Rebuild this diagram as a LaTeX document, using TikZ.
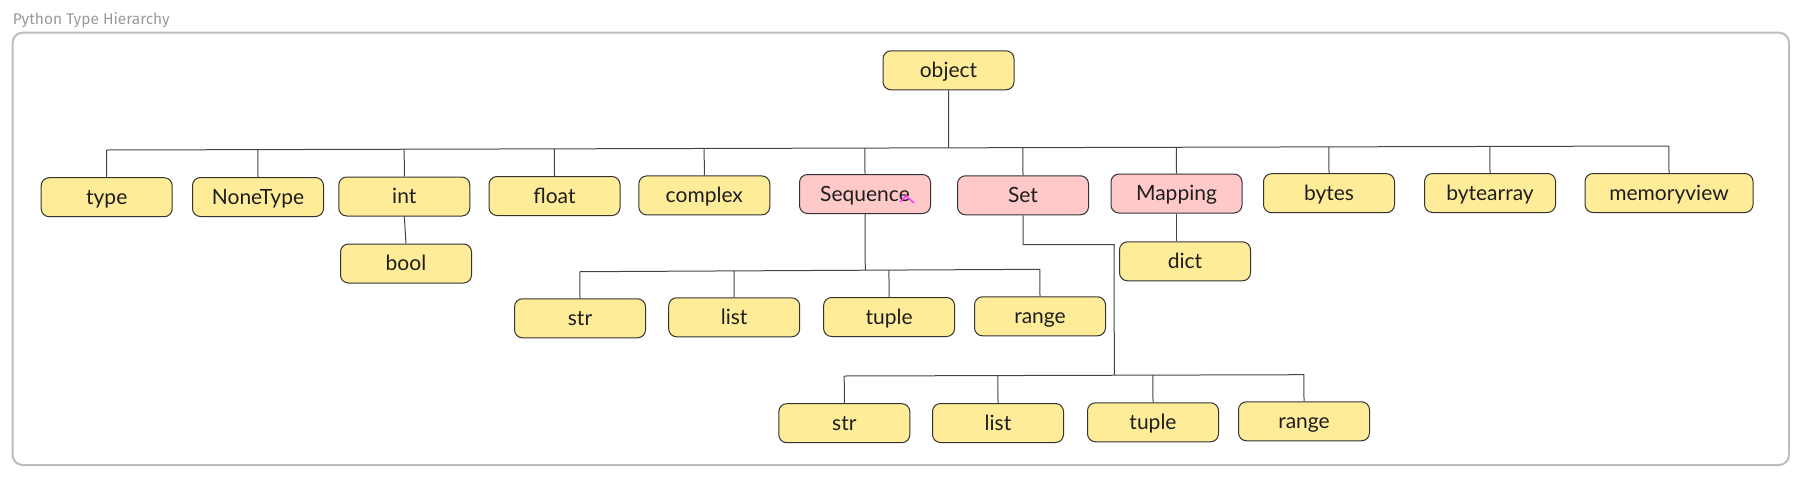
\documentclass[tikz,border=0pt]{standalone}
\usepackage{fontspec}
\setmainfont{Lato}
\newfontfamily\titlefont{Fira Sans}
\usetikzlibrary{calc}
\definecolor{nodeyellow}{HTML}{FFEC99}
\definecolor{nodepink}{HTML}{FFC9C9}
\definecolor{nodeborder}{HTML}{333333}
\definecolor{linegray}{HTML}{444444}
\definecolor{framegray}{HTML}{BDBDBD}
\definecolor{titlegray}{HTML}{9A9A9A}
\definecolor{caretpink}{HTML}{FF3DFF}
\definecolor{textdark}{HTML}{1E1E1E}
\tikzset{
  typebox/.style={draw=nodeborder, line width=1pt, rounded corners=8pt, fill=nodeyellow,
    minimum width=131pt, minimum height=39pt, inner sep=0pt, text=textdark,
    text height=14pt, text depth=0pt,
    font=\fontsize{21}{24}\selectfont},
  abstractbox/.style={typebox, fill=nodepink},
  link/.style={draw=linegray, line width=1pt},
}
\begin{document}
\begin{tikzpicture}[x=1pt, y=-1pt]
\useasboundingbox (0,0) rectangle (1800,480);
% frame and title
\draw[framegray, line width=2pt, rounded corners=10pt] (12.6,32.7) rectangle (1789,465);
\node[anchor=base west, inner sep=0pt, text=titlegray, font=\titlefont\fontsize{15.5}{18}\selectfont] (title) at (12.6,24) {Python Type Hierarchy};

% nodes
\node[typebox] (object) at (948.5,70.3) {object};
\node[typebox] (type) at (106.7,197.2) {type};
\node[typebox] (nonetype) at (258,197) {NoneType};
\node[typebox] (int) at (404.3,196.5) {int};
\node[typebox] (float) at (554.5,196) {float};
\node[typebox] (complex) at (704.3,195.4) {complex};
\node[abstractbox] (sequence) at (865,194) {Sequence};
\node[abstractbox] (set) at (1023,195.3) {Set};
\node[abstractbox] (mapping) at (1176.5,193.5) {Mapping};
\node[typebox] (bytes) at (1329,193.2) {bytes};
\node[typebox] (bytearray) at (1490,193) {bytearray};
\node[typebox, minimum width=168pt] (memoryview) at (1669,193) {memoryview};
\node[typebox] (bool) at (406,263.5) {bool};
\node[typebox] (dict) at (1185,261.3) {dict};
\node[typebox] (strA) at (580,318.3) {str};
\node[typebox] (listA) at (734.2,317.3) {list};
\node[typebox] (tupleA) at (889.1,317) {tuple};
\node[typebox] (rangeA) at (1040,316.3) {range};
\node[typebox] (strB) at (844.3,423.2) {str};
\node[typebox] (listB) at (998,423) {list};
\node[typebox] (tupleB) at (1153,422.3) {tuple};
\node[typebox] (rangeB) at (1304,421.3) {range};

% caret mark inside Sequence
\draw[caretpink, line width=1.5pt, line cap=round, line join=round] (900.4,201.7) -- (906,196) -- (913.8,202.7);

% top level bus
\coordinate (busL) at (106.7,150);
\coordinate (busR) at (1669,146);
\draw[link] (busL) -- (busR);
\draw[link] (object.south) -- ($(busL)!(object.south)!(busR)$);
\foreach \n in {type,nonetype,int,float,complex,sequence,set,mapping,bytes,bytearray,memoryview}
  \draw[link] (\n.north) -- ($(busL)!(\n.north)!(busR)$);

% int -> bool, Mapping -> dict
\draw[link] (int.south) -- (bool.north);
\draw[link] (mapping.south) -- (mapping.south |- dict.north);

% Sequence children
\coordinate (seqL) at (580,271.7);
\coordinate (seqR) at (1040,269.3);
\draw[link] (seqL) -- (seqR);
\draw[link] (sequence.south) -- ($(seqL)!(sequence.south)!(seqR)$);
\foreach \n in {strA,listA,tupleA,rangeA}
  \draw[link] (\n.north) -- ($(seqL)!(\n.north)!(seqR)$);

% Set children
\coordinate (setL) at (844.3,376);
\coordinate (setR) at (1304,374.7);
\coordinate (setElbowA) at (1023,244.5);
\coordinate (setElbowB) at (1114,244.5);
\draw[link] (set.south) -- (setElbowA) -- (setElbowB) -- ($(setL)!(setElbowB)!(setR)$);
\draw[link] (setL) -- (setR);
\foreach \n in {strB,listB,tupleB,rangeB}
  \draw[link] (\n.north) -- ($(setL)!(\n.north)!(setR)$);
\end{tikzpicture}
\end{document}
